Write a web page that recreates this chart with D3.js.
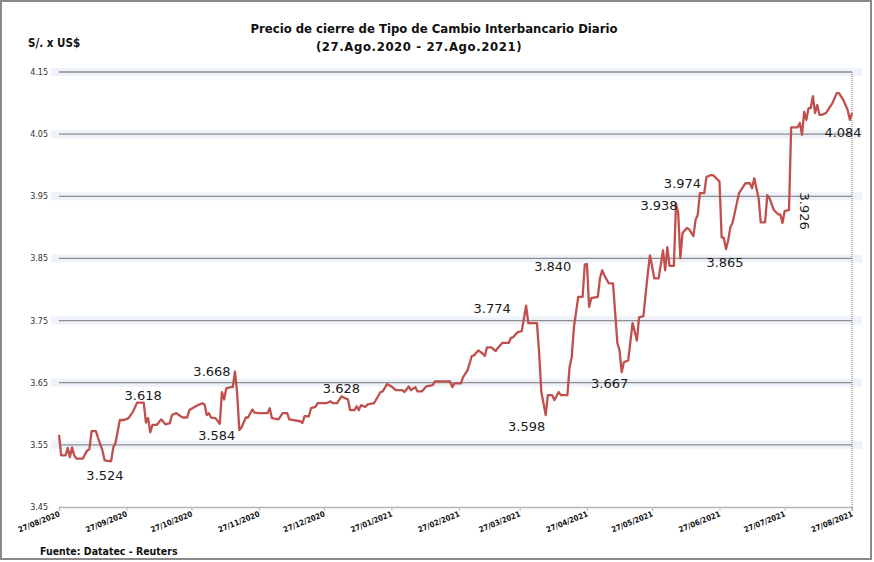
<!DOCTYPE html>
<html>
<head>
<meta charset="utf-8">
<script src="https://cdn.jsdelivr.net/npm/d3@7"></script>
<style>
  body { margin: 0; background: #fff; }
  text { font-family: "DejaVu Sans Condensed", "DejaVu Sans", sans-serif; }
  .grid-glow { stroke: #eef2f9; stroke-width: 8; }
  .grid-line { stroke: #8e8e8e; stroke-width: 1.3; }
  .price { fill: none; stroke: #c0504d; stroke-width: 2.3; stroke-linejoin: round; }
  .lbl { font-family: "DejaVu Sans", Verdana, sans-serif; font-size: 13px; fill: #1a1a1a; }
</style>
</head>
<body>
<svg id="chart" width="874" height="562"></svg>
<script>
// daily closing rate (S/. per US$)
const dates = [
  "2020-08-27","2020-08-28","2020-08-30","2020-08-31","2020-09-01","2020-09-02","2020-09-03","2020-09-04",
  "2020-09-07","2020-09-08","2020-09-09","2020-09-10","2020-09-11","2020-09-13","2020-09-14","2020-09-16",
  "2020-09-17","2020-09-19","2020-09-20","2020-09-21","2020-09-22","2020-09-24","2020-09-26","2020-09-28",
  "2020-09-30","2020-10-02","2020-10-05","2020-10-06","2020-10-07","2020-10-08","2020-10-09","2020-10-11",
  "2020-10-13","2020-10-15","2020-10-17","2020-10-18","2020-10-20","2020-10-22","2020-10-23","2020-10-25",
  "2020-10-26","2020-10-30","2020-11-01","2020-11-02","2020-11-03","2020-11-04","2020-11-05","2020-11-07",
  "2020-11-09","2020-11-10","2020-11-11","2020-11-12","2020-11-14","2020-11-15","2020-11-16","2020-11-17",
  "2020-11-18","2020-11-19","2020-11-21","2020-11-22","2020-11-24","2020-11-25","2020-11-27","2020-12-01",
  "2020-12-02","2020-12-03","2020-12-06","2020-12-08","2020-12-10","2020-12-11","2020-12-16","2020-12-17",
  "2020-12-18","2020-12-20","2020-12-21","2020-12-23","2020-12-24","2020-12-28","2020-12-30","2020-12-31",
  "2021-01-02","2021-01-04","2021-01-07","2021-01-08","2021-01-10","2021-01-11","2021-01-12","2021-01-13",
  "2021-01-15","2021-01-16","2021-01-19","2021-01-22","2021-01-23","2021-01-25","2021-01-27","2021-01-29",
  "2021-02-01","2021-02-02","2021-02-04","2021-02-05","2021-02-07","2021-02-08","2021-02-10","2021-02-12",
  "2021-02-15","2021-02-16","2021-02-23","2021-02-24","2021-02-25","2021-02-28","2021-03-01","2021-03-03",
  "2021-03-04","2021-03-05","2021-03-06","2021-03-08","2021-03-10","2021-03-11","2021-03-12","2021-03-14",
  "2021-03-16","2021-03-17","2021-03-19","2021-03-22","2021-03-23","2021-03-24","2021-03-26","2021-03-28",
  "2021-03-30","2021-03-31","2021-04-04","2021-04-05","2021-04-06","2021-04-07","2021-04-08","2021-04-09",
  "2021-04-11","2021-04-12","2021-04-14","2021-04-15","2021-04-18","2021-04-19","2021-04-20","2021-04-21",
  "2021-04-23","2021-04-25","2021-04-26","2021-04-27","2021-04-28","2021-04-29","2021-05-02","2021-05-03",
  "2021-05-04","2021-05-05","2021-05-07","2021-05-09","2021-05-11","2021-05-12","2021-05-13","2021-05-14",
  "2021-05-16","2021-05-18","2021-05-20","2021-05-21","2021-05-23","2021-05-25","2021-05-26","2021-05-28",
  "2021-05-30","2021-06-01","2021-06-02","2021-06-03","2021-06-04","2021-06-06","2021-06-07","2021-06-08",
  "2021-06-09","2021-06-10","2021-06-12","2021-06-13","2021-06-15","2021-06-16","2021-06-17","2021-06-18",
  "2021-06-20","2021-06-21","2021-06-23","2021-06-24","2021-06-27","2021-06-28","2021-06-29","2021-06-30",
  "2021-07-01","2021-07-02","2021-07-03","2021-07-05","2021-07-06","2021-07-09","2021-07-11","2021-07-12",
  "2021-07-13","2021-07-14","2021-07-15","2021-07-16","2021-07-18","2021-07-19","2021-07-20","2021-07-22",
  "2021-07-24","2021-07-25","2021-07-26","2021-07-27","2021-07-29","2021-07-30","2021-08-02","2021-08-03",
  "2021-08-04","2021-08-05","2021-08-06","2021-08-07","2021-08-08","2021-08-09","2021-08-10","2021-08-11",
  "2021-08-12","2021-08-13","2021-08-15","2021-08-18","2021-08-20","2021-08-21","2021-08-23","2021-08-25",
  "2021-08-26","2021-08-27"
];
const rates = [
  3.566,3.533,3.533,3.545,3.530,3.546,3.533,3.528,
  3.528,3.535,3.541,3.543,3.572,3.572,3.561,3.541,
  3.525,3.524,3.524,3.546,3.553,3.590,3.590,3.593,
  3.603,3.618,3.618,3.586,3.593,3.570,3.582,3.582,
  3.591,3.583,3.585,3.598,3.601,3.596,3.594,3.594,
  3.606,3.614,3.617,3.615,3.598,3.601,3.594,3.593,
  3.584,3.635,3.623,3.641,3.643,3.643,3.668,3.633,
  3.574,3.578,3.594,3.594,3.607,3.602,3.601,3.601,
  3.609,3.593,3.591,3.601,3.601,3.591,3.588,3.585,
  3.596,3.596,3.609,3.611,3.617,3.617,3.620,3.617,
  3.617,3.628,3.623,3.606,3.606,3.612,3.606,3.614,
  3.611,3.615,3.617,3.635,3.636,3.648,3.644,3.638,
  3.638,3.635,3.644,3.638,3.643,3.636,3.636,3.644,
  3.646,3.652,3.652,3.643,3.649,3.649,3.659,3.670,
  3.681,3.693,3.694,3.702,3.697,3.693,3.707,3.707,
  3.701,3.706,3.714,3.714,3.722,3.723,3.731,3.733,
  3.774,3.746,3.746,3.698,3.635,3.617,3.598,3.630,
  3.630,3.622,3.635,3.630,3.630,3.675,3.691,3.739,
  3.788,3.788,3.840,3.841,3.772,3.786,3.788,3.818,
  3.831,3.823,3.810,3.810,3.714,3.702,3.667,3.683,
  3.686,3.746,3.718,3.755,3.757,3.826,3.855,3.818,
  3.818,3.863,3.831,3.868,3.838,3.838,3.938,3.923,
  3.850,3.891,3.899,3.897,3.886,3.912,3.920,3.955,
  3.955,3.981,3.984,3.984,3.974,3.884,3.883,3.865,
  3.879,3.900,3.907,3.939,3.955,3.971,3.971,3.963,
  3.979,3.963,3.947,3.908,3.908,3.952,3.947,3.928,
  3.921,3.921,3.907,3.926,3.928,4.061,4.061,4.068,
  4.049,4.086,4.073,4.092,4.092,4.111,4.084,4.097,
  4.081,4.081,4.084,4.100,4.116,4.116,4.105,4.089,
  4.073,4.084
];

const yTicks = [3.45, 3.55, 3.65, 3.75, 3.85, 3.95, 4.05, 4.15];
const xTickDates = ["2020-08-27","2020-09-27","2020-10-27","2020-11-27","2020-12-27","2021-01-27",
  "2021-02-27","2021-03-27","2021-04-27","2021-05-27","2021-06-27","2021-07-27","2021-08-27"];

// values written on the line
const noteDates = ["2020-09-19","2020-10-02","2020-11-16","2020-11-09","2021-01-04","2021-03-30","2021-04-08",
  "2021-04-26","2021-05-13","2021-06-07","2021-06-27","2021-06-30","2021-07-27","2021-08-27"];
const noteTexts = ["3.524","3.618","3.668","3.584","3.628","3.774","3.598",
  "3.840","3.667","3.938","3.974","3.865","3.926","4.084"];

const drawChart = ()=>{
  let svg = d3.select("#chart");
  let parse = d3.timeParse("%Y-%m-%d");

  let left = 59, right = 852, top = 72, bottom = 507;

  let data = dates.map((d,i)=>({date: parse(d), value: rates[i]}));

  let xScale = d3.scaleTime().domain([parse("2020-08-27"), parse("2021-08-27")]).range([left, right]);
  let yScale = d3.scaleLinear().domain([3.45, 4.15]).range([bottom, top]);

  // outer frame
  svg.append("rect")
    .attr("x", 1).attr("y", 1).attr("width", 870).attr("height", 558)
    .attr("fill", "none").attr("stroke", "#8a8a8a").attr("stroke-width", 2);

  // titles
  svg.append("text").attr("x", 434).attr("y", 33).attr("text-anchor", "middle")
    .attr("font-size", "13px").attr("font-weight", "bold").attr("fill", "#111")
    .text("Precio de cierre de Tipo de Cambio Interbancario Diario");
  svg.append("text").attr("x", 419).attr("y", 51).attr("text-anchor", "middle")
    .attr("font-size", "13px").attr("font-weight", "bold").attr("fill", "#111")
    .attr("letter-spacing", "0.6px")
    .text("(27.Ago.2020 - 27.Ago.2021)");
  svg.append("text").attr("x", 28).attr("y", 47)
    .attr("font-size", "11.5px").attr("font-weight", "bold").attr("fill", "#111")
    .text("S/. x US$");
  svg.append("text").attr("x", 40).attr("y", 555)
    .attr("font-size", "10.5px").attr("font-weight", "bold").attr("fill", "#111")
    .text("Fuente: Datatec - Reuters");

  // horizontal grid with the soft bluish glow
  let grid = svg.append("g");
  grid.selectAll(".grid-glow")
    .data(yTicks.slice(1))
    .enter().append("line")
    .attr("class", "grid-glow")
    .attr("x1", left - 8).attr("x2", right + 10)
    .attr("y1", d=>yScale(d)).attr("y2", d=>yScale(d));
  grid.selectAll(".grid-line")
    .data(yTicks.slice(1))
    .enter().append("line")
    .attr("class", "grid-line")
    .attr("x1", left).attr("x2", right)
    .attr("y1", d=>yScale(d)).attr("y2", d=>yScale(d));

  // right dotted border of plot
  svg.append("line")
    .attr("x1", right).attr("x2", right).attr("y1", top).attr("y2", bottom + 4)
    .attr("stroke", "#777").attr("stroke-width", 1).attr("stroke-dasharray", "1,1");

  // y labels
  let yAxis = d3.axisLeft(yScale).tickValues(yTicks).tickSize(0).tickPadding(11)
    .tickFormat(d3.format(".2f"));
  let gy = svg.append("g").attr("transform", "translate(" + left + ",0)").call(yAxis);
  gy.select(".domain").remove();
  gy.selectAll("text").attr("font-size", "8px").attr("fill", "#333")
    .style("font-family", "'DejaVu Sans', Verdana, sans-serif");

  // x axis
  let xAxis = d3.axisBottom(xScale).tickValues(xTickDates.map(parse))
    .tickSize(4).tickFormat(d3.timeFormat("%d/%m/%Y"));
  let gx = svg.append("g").attr("transform", "translate(0," + bottom + ")").call(xAxis);
  gx.select(".domain").attr("stroke", "#b5b5b5").attr("stroke-width", 1.3);
  gx.selectAll(".tick line").attr("stroke", "#b5b5b5");
  gx.selectAll("text")
    .attr("font-size", "7.8px").attr("font-weight", "bold").attr("fill", "#111")
    .style("font-family", "'DejaVu Sans Condensed', 'DejaVu Sans', sans-serif")
    .attr("text-anchor", "end")
    .attr("dy", 0).attr("y", 0)
    .attr("transform", "translate(1,9) rotate(-22)");

  // price line
  let line = d3.line().x(d=>xScale(d.date)).y(d=>yScale(d.value));
  svg.append("path").datum(data).attr("class", "price").attr("d", line);

  // value notes, offsets relative to their point
  let offsets = [[-4,14],[6,-7],[-23,0],[-3,12],[0,-8],[-34,3],[-19,11],
    [-32,2],[-12,11],[-17,2],[-37,2],[-1,13],[20,0],[-9,19]];
  noteTexts.forEach((t,i)=>{
    let v = rates[dates.indexOf(noteDates[i])];
    let x = xScale(parse(noteDates[i])) + offsets[i][0];
    let y = yScale(v) + offsets[i][1];
    let txt = svg.append("text").attr("class", "lbl")
      .attr("text-anchor", "middle").attr("dominant-baseline", "central")
      .attr("x", x).attr("y", y).text(t);
    if (t === "3.926") {
      txt.attr("transform", "rotate(90," + x + "," + y + ")");
    }
  });
}

window.onload = function(){
  drawChart();
}
</script>
</body>
</html>
